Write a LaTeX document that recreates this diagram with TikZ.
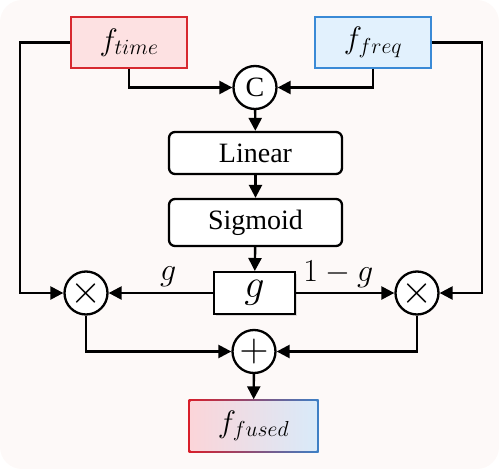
\RequirePackage{fix-cm}
\documentclass[tikz,border=0pt]{standalone}
\usepackage{fontspec}
\setmainfont{Liberation Serif}
\usetikzlibrary{arrows.meta,shadows}
\definecolor{bgc}{HTML}{FDF9F8}
\definecolor{timefill}{HTML}{FDE1E2}
\definecolor{timeline}{HTML}{D7282F}
\definecolor{freqfill}{HTML}{E2F1FD}
\definecolor{freqline}{HTML}{3A8AD6}
\definecolor{fusedL}{HTML}{FBD5D9}
\definecolor{fusedR}{HTML}{D9EAF9}
\definecolor{fusedLline}{HTML}{D81E2A}
\definecolor{fusedRline}{HTML}{3D80C6}
\tikzset{
  fbox/.style={draw, minimum width=116pt, minimum height=51pt, inner sep=0pt, line width=1.3pt},
  opnode/.style={circle, draw, fill=white, minimum size=43pt, inner sep=0pt, line width=2.3pt},
  blk/.style={draw, fill=white, rounded corners=6pt, minimum width=173pt, line width=2.3pt, inner sep=0pt},
  conn/.style={line width=2.4pt, -{Triangle[length=13pt,width=13pt]}},
  bigtext/.style={font=\fontsize{28}{32}\selectfont},
  ftext/.style={font=\fontsize{31}{34}\selectfont},
}
\begin{document}
\begin{tikzpicture}[x=1pt,y=-1pt]
\useasboundingbox (0,0) rectangle (499,469);
\fill[bgc, rounded corners=22pt] (0,0) rectangle (499,469);

\node[fbox, fill=timefill, draw=timeline, ftext] (ftime) at (129,42.5) {$f_{time}$};
\node[fbox, fill=freqfill, draw=freqline, ftext] (ffreq) at (373,42.5) {$f_{freq}$};
\node[opnode, bigtext] (C) at (255,87.5) {C};
\node[blk, minimum height=42pt, bigtext] (lin) at (255.5,153) {Linear};
\node[blk, minimum height=47pt, bigtext] (sig) at (255.5,222.5) {Sigmoid};
\node[draw, fill=white, line width=2pt, minimum width=81pt, minimum height=42pt, inner sep=0pt,
      drop shadow={shadow xshift=1.5pt, shadow yshift=-1.5pt, opacity=0.25},
      font=\fontsize{40}{42}\selectfont] (g) at (254.5,293) {$g$};
\node[opnode, font=\fontsize{40}{40}\selectfont] (mulL) at (86,293) {$\times$};
\node[opnode, font=\fontsize{40}{40}\selectfont] (mulR) at (417,293) {$\times$};
\node[opnode, font=\fontsize{40}{40}\selectfont] (plus) at (254,351.5) {$+$};
\node[minimum width=130pt, minimum height=53pt, inner sep=0pt, left color=fusedLline, right color=fusedRline] (ffusedO) at (253.5,426) {};
\node[minimum width=126pt, minimum height=49pt, inner sep=0pt, left color=fusedL, right color=fusedR, ftext] (ffused) at (253.5,426) {$f_{fused}$};

\coordinate (lb) at (20,293);
\coordinate (rb) at (482,293);

\draw[conn] (ftime.south) |- (C.west);
\draw[conn] (ffreq.south) |- (C.east);
\draw[conn] (C) -- (lin);
\draw[conn] (lin) -- (sig);
\draw[conn] (sig) -- (g);
\draw[conn] (ftime.west) -- (ftime.west -| lb) -- (lb) -- (mulL.west);
\draw[conn] (ffreq.east) -- (ffreq.east -| rb) -- (rb) -- (mulR.east);
\draw[conn] (g.west) -- node[pos=0.43, above=2pt, font=\fontsize{32}{34}\selectfont] {$g$} (mulL.east);
\draw[conn] (g.east) -- node[pos=0.43, above=1pt, font=\fontsize{32}{34}\selectfont] {$1-g$} (mulR.west);
\draw[conn] (mulL.south) |- (plus.west);
\draw[conn] (mulR.south) |- (plus.east);
\draw[conn] (plus) -- (ffusedO);
\end{tikzpicture}
\end{document}
